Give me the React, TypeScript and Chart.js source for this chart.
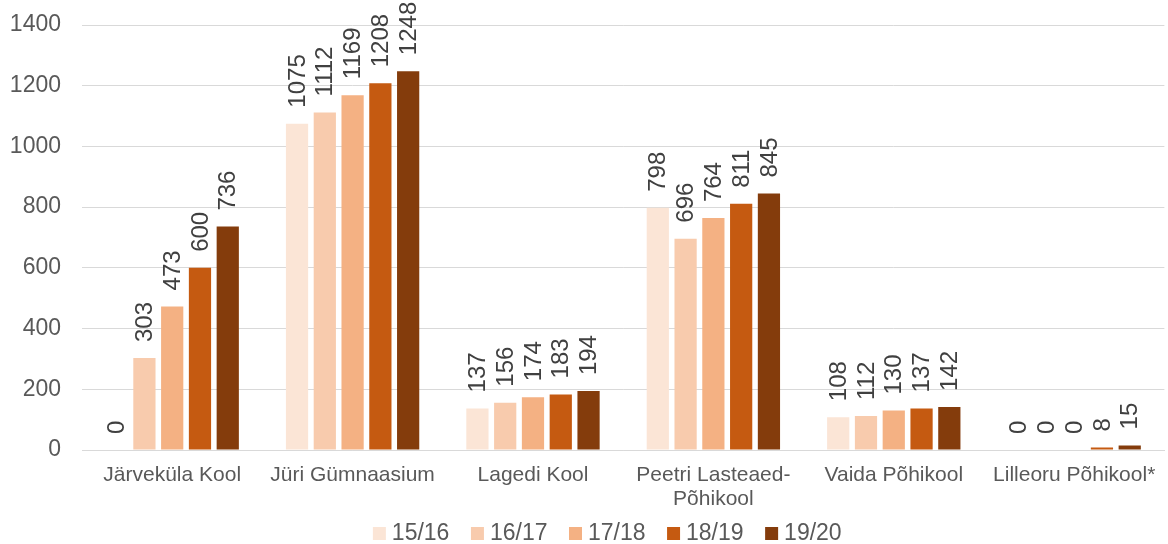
import React, { useEffect, useRef } from "react";
import { Chart, registerables } from "chart.js";

Chart.register(...registerables);

const categories: (string | string[])[] = [
  "Järveküla Kool",
  "Jüri Gümnaasium",
  "Lagedi Kool",
  ["Peetri Lasteaed-", "Põhikool"],
  "Vaida Põhikool",
  "Lilleoru Põhikool*",
];
const s1516 = [0, 1075, 137, 798, 108, 0];
const s1617 = [303, 1112, 156, 696, 112, 0];
const s1718 = [473, 1169, 174, 764, 130, 0];
const s1819 = [600, 1208, 183, 811, 137, 8];
const s1920 = [736, 1248, 194, 845, 142, 15];
const seriesLabels = ["15/16", "16/17", "17/18", "18/19", "19/20"];
const seriesColors = ["#FBE5D6", "#F8CBAD", "#F4B183", "#C55A11", "#843C0C"];
const yTicks = [0, 200, 400, 600, 800, 1000, 1200, 1400];

const FONT = "Arial, 'Liberation Sans', sans-serif";
const TEXT = "#595959";

const valueLabels = {
  id: "valueLabels",
  afterDatasetsDraw(chart: any) {
    const ctx = chart.ctx;
    ctx.save();
    ctx.font = `24px ${FONT}`;
    ctx.fillStyle = "#404040";
    ctx.textAlign = "left";
    ctx.textBaseline = "middle";
    chart.data.datasets.forEach((ds: any, i: number) => {
      const meta = chart.getDatasetMeta(i);
      meta.data.forEach((bar: any, j: number) => {
        ctx.save();
        ctx.translate(bar.x, bar.y - 16);
        ctx.rotate(-Math.PI / 2);
        ctx.fillText(String(ds.data[j]), 0, 1);
        ctx.restore();
      });
    });
    ctx.restore();
  },
};

const legendShift = {
  id: "legendShift",
  afterLayout(chart: any) {
    if (chart.legend) {
      chart.legend.left += 13;
      chart.legend.right += 13;
    }
  },
};

function makeSwatch(color: string): HTMLCanvasElement {
  const c = document.createElement("canvas");
  c.width = 33;
  c.height = 13;
  const g = c.getContext("2d")!;
  g.fillStyle = color;
  g.fillRect(18, 0, 13, 13);
  return c;
}

export default function App() {
  const ref = useRef<HTMLCanvasElement>(null);
  useEffect(() => {
    document.body.style.margin = "0";
    const swatches = seriesColors.map(makeSwatch);
    const chart = new Chart(ref.current!, {
      type: "bar",
      data: {
        labels: categories,
        datasets: [s1516, s1617, s1718, s1819, s1920].map((d, i) => ({
          label: seriesLabels[i],
          data: d,
          backgroundColor: seriesColors[i],
          borderWidth: 0,
          categoryPercentage: 0.77,
          barPercentage: 0.8,
        })),
      },
      options: {
        animation: false,
        responsive: false,
        maintainAspectRatio: false,
        layout: { padding: { top: 0, right: 0, left: 10, bottom: -11 } },
        plugins: {
          legend: {
            position: "bottom",
            labels: {
              font: { size: 23, family: FONT },
              color: TEXT,
              usePointStyle: true,
              pointStyleWidth: 18,
              boxWidth: 18,
              boxHeight: 13,
              padding: 11,
              generateLabels: (c: any) => {
                const items = (Chart as any).defaults.plugins.legend.labels.generateLabels(c);
                return items.map((it: any, i: number) => ({ ...it, pointStyle: swatches[i] }));
              },
            },
          },
          tooltip: { enabled: false },
        },
        scales: {
          x: {
            afterFit: (axis: any) => {
              axis.height = 61;
            },
            grid: { display: false, drawTicks: false },
            border: { display: true, color: "#d9d9d9" },
            ticks: {
              font: { size: 21, family: FONT, lineHeight: 1.15 },
              color: TEXT,
              padding: 12.7,
              maxRotation: 0,
              autoSkip: false,
            },
          },
          y: {
            min: 0,
            max: 1400,
            afterFit: (axis: any) => {
              axis.width = 72;
              axis.paddingTop = 25;
            },
            afterBuildTicks: (axis: any) => {
              axis.ticks = yTicks.map((v) => ({ value: v }));
            },
            grid: { color: "#d9d9d9", drawTicks: false },
            border: { display: false },
            ticks: {
              font: { size: 23, family: FONT },
              color: TEXT,
              padding: 21,
              callback: (v: any) => String(v),
            },
          },
        },
      },
      plugins: [valueLabels, legendShift],
    });
    return () => chart.destroy();
  }, []);
  return (
    <div style={{ width: 1168, height: 544, overflow: "hidden" }}>
      <canvas ref={ref} width={1168} height={544} />
    </div>
  );
}
